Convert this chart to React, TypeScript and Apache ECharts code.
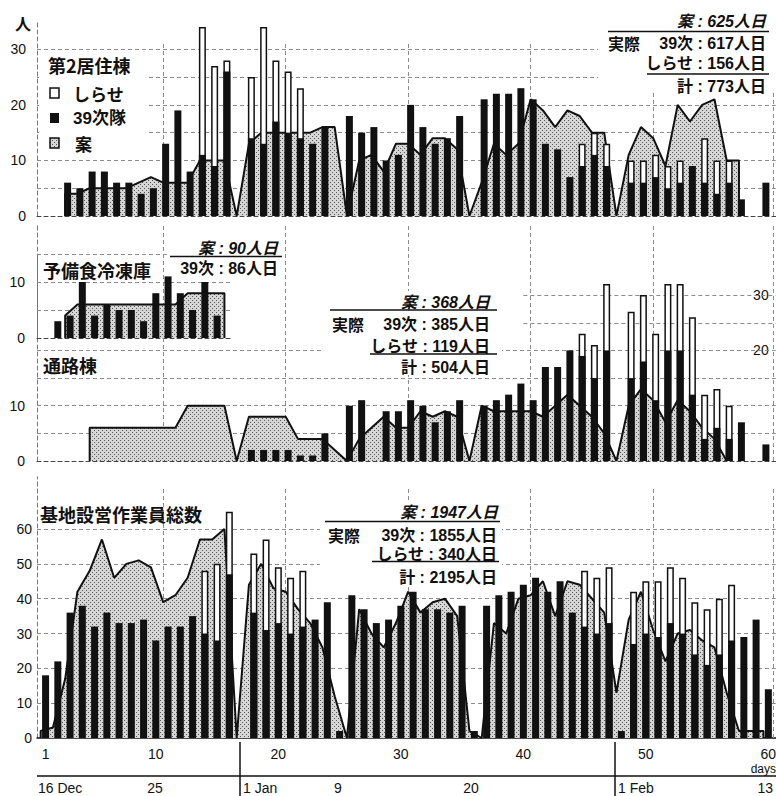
import { useEffect, useRef } from 'react';
import * as echarts from 'echarts';

type V = number | null;
const N = null;

// ---------- layout constants (axis extents) ----------
const X_MIN = 0.3;
const X_MAX = 60.6;
const SMALL_X_MAX = 16.3;
const PLAN_SHIFT = 0.6; // plan polyline vertices sit between bars
const UPPER_BAR_SHIFT = -0.2;
const DAY_TICKS = [1, 10, 20, 30, 40, 50, 60];
const GRID_DAYS = [10, 20, 30, 40, 50];
const RIGHT_EDGE = 60.4;

// ---------- 第2居住棟 (index = day 0..60) ----------
const dorm39: V[] = [
  N, N, N, 6, 5, 8, 8, 6, 6, 4,
  5, 13, 19, 8, 11, 9, 26, N, 14, 13,
  17, 15, 14, 13, 16, N, 18, 15, 16, 10,
  11, 20, 16, 13, 14, 18, N, 21, 22, 22,
  23, 21, 13, 12, 7, 9, 11, 9, N, 6,
  6, 7, 5, 6, 9, 6, 4, 6, 3, N,
  6,
];
const dormShirase: V[] = [
  N, N, N, N, N, N, N, N, N, N,
  N, N, N, N, 23, 18, 2, N, 11, 21,
  11, 11, 9, N, N, N, N, N, N, N,
  N, N, N, N, N, N, N, N, N, N,
  N, N, N, N, N, 4, 4, 4, N, 4,
  4, 4, 4, 4, N, 8, 6, 4, N, N,
  N,
];
const dormPlan: V[] = [
  N, N, 4, 4, 5, 5, 5, 5, 6, 7,
  6, 6, 6, 10, 10, 10, 0, 13, 15, 15,
  15, 15, 15, 16, 16, 0, 10, 11, 8, 13,
  13, 11, 14, 14, 12, 0, 6, 13, 11, 13,
  21, 19, 16, 19, 18, 15, 15, 0, 11, 16,
  14, 9, 20, 17, 20, 21, 10, 10, N, N,
  N,
];

// ---------- 予備食冷凍庫 (day 0..15) ----------
const frz39: V[] = [N, N, 3, 4, 10, 4, 6, 5, 5, 3, 8, 11, 8, 5, 10, 4];
const frzPlan: V[] = [N, N, 4, 6, 6, 6, 6, 6, 6, 6, 6, 6, 8, 8, 8, 8];

// ---------- 通路棟 ----------
const pass39: V[] = [
  N, N, N, N, N, N, N, N, N, N,
  N, N, N, N, N, N, N, N, 2, 2,
  2, 2, 1, 1, 5, N, 10, 11, N, 9,
  9, 11, 10, 7, 9, 11, N, 10, 11, 12,
  14, 11, 17, 17, 20, 19, 15, 20, N, 15,
  18, 11, 20, 20, 12, 4, 6, 4, 7, N,
  3,
];
const passShirase: V[] = [
  N, N, N, N, N, N, N, N, N, N,
  N, N, N, N, N, N, N, N, N, N,
  N, N, N, N, N, N, N, N, N, N,
  N, N, N, N, N, N, N, N, N, N,
  N, N, N, N, N, 4, 6, 12, N, 12,
  12, 12, 12, 12, 14, 8, 7, 6, N, N,
  N,
];
const passPlan: V[] = [
  N, N, N, N, 6, 6, 6, 6, 6, 6,
  6, 6, 10, 10, 10, 10, 0, 8, 8, 8,
  8, 4, 4, 4, 2, 0, 4, 6, 8, 6,
  6, 9, 8, 9, 8, 0, 10, 9, 9, 9,
  9, 8, 10, 12, 10, 8, 5, 0, 10, 13,
  11, 7, 11, 9, 6, 4, 0, N, N, N,
  N,
];

// ---------- 基地設営作業員総数 ----------
const all39: V[] = [
  N, 18, 22, 36, 38, 32, 36, 33, 33, 34,
  28, 32, 32, 35, 30, 28, 47, N, 36, 31,
  33, 30, 32, 34, 39, 2, 41, 37, 33, 34,
  38, 42, 37, 37, 36, 38, 2, 38, 41, 42,
  44, 46, 42, 45, 36, 32, 30, 33, 2, 27,
  30, 29, 33, 30, 24, 21, 24, 28, 29, 34,
  14,
];
const allShirase: V[] = [
  N, N, N, N, N, N, N, N, N, N,
  N, N, N, N, 18, 22, 18, N, 17, 26,
  16, 16, 16, N, N, N, N, N, N, N,
  N, N, N, N, N, N, N, N, N, N,
  N, N, N, N, N, 16, 16, 16, N, 15,
  15, 16, 16, 16, 15, 16, 16, 16, N, N,
  N,
];
const allPlan: V[] = [
  2, 3, 17, 42, 48, 57, 46, 50, 51, 49,
  39, 41, 46, 57, 57, 60, 0, 44, 50, 43,
  42, 37, 33, 26, 12, 0, 37, 30, 26, 33,
  42, 36, 39, 40, 35, 2, 0, 33, 30, 40,
  41, 45, 35, 45, 44, 40, 36, 13, 34, 42,
  31, 22, 30, 31, 28, 26, 13, 2, 2, 2,
  N,
];

// ---------- text ----------
const DATE_LABELS = ['16 Dec', '25', '1 Jan', '9', '20', '1 Feb', '13'];

const FONT = "'Liberation Sans', 'Noto Sans CJK JP', sans-serif";
const FONT_JP = "'Noto Sans CJK JP', 'Liberation Sans', sans-serif";
const INK = '#111';

function bars(vals: V[], shift: number) {
  const out: number[][] = [];
  vals.forEach((v, i) => { if (v != null) out.push([i + shift, v]); });
  return out;
}
function totals(base: V[], extra: V[], shift: number) {
  const out: number[][] = [];
  extra.forEach((v, i) => { if (v != null) out.push([i + shift, (base[i] ?? 0) + v]); });
  return out;
}
function planLine(vals: V[]) {
  const out: number[][] = [];
  vals.forEach((v, i) => {
    if (v == null) return;
    const x = i + PLAN_SHIFT;
    if (i === 0 || vals[i - 1] == null) out.push([x, 0]);
    out.push([x, v]);
    if (i === vals.length - 1 || vals[i + 1] == null) out.push([x, 0]);
  });
  return out;
}

function panel(idx: number, black: V[], shirase: V[] | null, plan: V[], shift: number, pattern: any) {
  const s: any[] = [
    {
      type: 'line', xAxisIndex: idx, yAxisIndex: idx, data: planLine(plan),
      symbol: 'none', silent: true, z: 2,
      lineStyle: { color: INK, width: 2 },
      areaStyle: { color: pattern, opacity: 1 },
    },
  ];
  if (shirase) {
    s.push({
      type: 'bar', xAxisIndex: idx, yAxisIndex: idx, data: totals(black, shirase, shift),
      barWidth: 7, barGap: '-100%', silent: true, z: 3,
      itemStyle: { color: '#fff', borderColor: INK, borderWidth: 1.5 },
    });
  }
  s.push({
    type: 'bar', xAxisIndex: idx, yAxisIndex: idx, data: bars(black, shift),
    barWidth: 7, barGap: '-100%', silent: true, z: 4,
    itemStyle: { color: INK },
  });
  return s;
}

function gridLines(idx: number, h: number[][], v: number[][]) {
  return {
    type: 'line', xAxisIndex: idx, yAxisIndex: idx, data: [[X_MIN, 0]],
    symbol: 'none', silent: true, z: 1, lineStyle: { width: 0 },
    markLine: {
      silent: true, symbol: ['none', 'none'], label: { show: false }, z: 1, animation: false,
      lineStyle: { color: '#8c8c8c', width: 1, type: [4, 3] },
      emphasis: { disabled: true },
      data: [
        ...h.map(([y, x1, x2]) => [{ coord: [x1, y] }, { coord: [x2, y] }]),
        ...v.map(([x, y1, y2]) => [{ coord: [x, y1] }, { coord: [x, y2] }]),
      ],
    },
  };
}

function yAxis(gridIndex: number, max: number, interval: number, show: (v: number) => boolean, margin: number, extra: any = {}) {
  return {
    type: 'value', gridIndex, min: 0, max, interval,
    axisLine: { show: true, lineStyle: { color: '#777', width: 1, type: [4, 3] } },
    axisTick: { show: false },
    splitLine: { show: false },
    axisLabel: { formatter: (v: number) => (show(v) ? String(v) : ''), color: INK, fontSize: 14, fontFamily: FONT, margin },
    ...extra,
  };
}
function xAxis(gridIndex: number, max: number, extra: any = {}) {
  return {
    type: 'value', gridIndex, min: X_MIN, max,
    axisLine: { show: true, onZero: false, lineStyle: { color: '#444', width: 1, type: [4, 3] } },
    axisTick: { show: false },
    axisLabel: { show: false },
    splitLine: { show: false },
    ...extra,
  };
}

function txt(text: string, x: number, y: number, o: any = {}) {
  const align = o.align ?? 'left';
  return {
    type: 'text', x, y, z: 7,
    style: {
      text, fill: INK, fontSize: o.size ?? 16, fontWeight: o.weight ?? 'bold',
      fontStyle: o.italic ? 'italic' : 'normal', fontFamily: o.font ?? FONT,
      align, verticalAlign: 'middle', textAlign: align, textVerticalAlign: 'middle',
    },
  };
}
function hline(x1: number, x2: number, y: number, w = 1.5) {
  return { type: 'line', z: 7, shape: { x1, y1: y, x2, y2: y }, style: { stroke: INK, lineWidth: w } };
}
function vline(x: number, y1: number, y2: number, w = 1.5) {
  return { type: 'line', z: 7, shape: { x1: x, y1, x2: x, y2 }, style: { stroke: INK, lineWidth: w } };
}
function whiteRect(x: number, y: number, width: number, height: number) {
  return { type: 'rect', z: 6, shape: { x, y, width, height }, style: { fill: '#fff' } };
}

export default function App() {
  const ref = useRef<HTMLDivElement>(null);
  useEffect(() => {
    if (!ref.current) return;
    const c = document.createElement('canvas');
    c.width = 4; c.height = 4;
    const ctx = c.getContext('2d')!;
    ctx.fillStyle = '#d6d6d6'; ctx.fillRect(0, 0, 4, 4);
    ctx.fillStyle = '#555'; ctx.fillRect(0, 0, 1, 1); ctx.fillRect(2, 2, 1, 1);
    const pattern = { image: c.toDataURL(), repeat: 'repeat', imageWidth: 4, imageHeight: 4 };

    const chart = echarts.init(ref.current, null, { renderer: 'svg' });
    const vFull = (y1: number, y2: number) => [...GRID_DAYS.map((d) => [d + PLAN_SHIFT, y1, y2]), [RIGHT_EDGE, y1, y2]];

    const option: any = {
      animation: false,
      backgroundColor: '#fff',
      grid: [
        { left: 37, top: 21.5, width: 738.7, height: 194.5, outerBoundsMode: 'none' },
        { left: 37, top: 254, width: 196, height: 84, outerBoundsMode: 'none' },
        { left: 37, top: 226, width: 738.7, height: 235, outerBoundsMode: 'none' },
        { left: 37, top: 476.8, width: 738.7, height: 261.2, outerBoundsMode: 'none' },
      ],
      xAxis: [
        xAxis(0, X_MAX),
        xAxis(1, SMALL_X_MAX),
        xAxis(2, X_MAX),
        xAxis(3, X_MAX, {
          axisLine: { show: true, onZero: false, lineStyle: { color: INK, width: 1.5 } },
          axisLabel: { show: true, customValues: DAY_TICKS, color: INK, fontSize: 14, fontFamily: FONT, margin: 9 },
        }),
      ],
      yAxis: [
        yAxis(0, 35, 10, (v) => v <= 30, 11),
        yAxis(1, 15, 10, (v) => v <= 10, 12),
        yAxis(2, 42.5, 10, (v) => v <= 10, 12),
        yAxis(3, 75, 10, (v) => v <= 60, 5),
        yAxis(2, 42.5, 10, (v) => v === 20 || v === 30, 7, {
          position: 'right', axisLine: { show: false },
          axisLabel: { inside: true, formatter: (v: number) => (v === 20 || v === 30 ? String(v) : ''), color: INK, fontSize: 14, fontFamily: FONT, margin: 7 },
        }),
      ],
      series: [
        gridLines(0, [5, 10, 15, 20, 25, 30].map((y) => [y, X_MIN, X_MAX]), vFull(0, 31)),
        gridLines(1, [[5, X_MIN, SMALL_X_MAX], [10, X_MIN, SMALL_X_MAX], [15, X_MIN, 10.9]], []),
        gridLines(2, [
          ...[5, 10, 15, 20].map((y) => [y, X_MIN, X_MAX]),
          [25, 40, X_MAX], [30, 40, X_MAX],
        ], vFull(0, 42.5)),
        gridLines(3, [10, 20, 30, 40, 50, 60].map((y) => [y, X_MIN, X_MAX]), vFull(0, 72)),
        ...panel(0, dorm39, dormShirase, dormPlan, UPPER_BAR_SHIFT, pattern),
        ...panel(1, frz39, null, frzPlan, 0, pattern),
        ...panel(2, pass39, passShirase, passPlan, UPPER_BAR_SHIFT, pattern),
        ...panel(3, all39, allShirase, allPlan, 0, pattern),
      ],
      graphic: [
        whiteRect(39, 52, 108, 100),
        whiteRect(598, 4, 178, 88),
        whiteRect(324, 291, 178, 84),
        whiteRect(320, 501, 182, 84),

        txt('人', 15, 23, { size: 16, font: FONT_JP }),
        txt('第2居住棟', 48, 65, { size: 18, font: FONT_JP }),
        { type: 'rect', z: 7, shape: { x: 50, y: 88, width: 9, height: 10 }, style: { fill: '#fff', stroke: INK, lineWidth: 1.5 } },
        txt('しらせ', 73, 93, { size: 17, font: FONT_JP }),
        { type: 'rect', z: 7, shape: { x: 50, y: 113, width: 9, height: 10 }, style: { fill: INK } },
        txt('39次隊', 73, 118, { size: 17 }),
        { type: 'rect', z: 7, shape: { x: 50, y: 138, width: 9, height: 10 }, style: { fill: pattern, stroke: INK, lineWidth: 1.5 } },
        txt('案', 75, 143, { size: 17, font: FONT_JP }),

        txt('案 : 625人日', 766, 21, { align: 'right', italic: true }),
        hline(608, 769, 31.5),
        txt('実際', 608, 43, { font: FONT_JP }),
        txt('39次 : 617人日', 766, 43, { align: 'right' }),
        txt('しらせ : 156人日', 766, 63, { align: 'right' }),
        hline(647, 769, 74),
        txt('計 : 773人日', 766, 86, { align: 'right' }),

        txt('予備食冷凍庫', 43, 270, { size: 18, font: FONT_JP }),
        txt('案 : 90人日', 278, 248, { align: 'right', italic: true }),
        hline(170, 282, 256.5),
        txt('39次 : 86人日', 278, 268, { align: 'right' }),

        txt('通路棟', 43, 365, { size: 18, font: FONT_JP }),
        txt('案 : 368人日', 490, 302, { align: 'right', italic: true }),
        hline(330, 497, 310),
        txt('実際', 332, 324, { font: FONT_JP }),
        txt('39次 : 385人日', 490, 324, { align: 'right' }),
        txt('しらせ : 119人日', 490, 346, { align: 'right' }),
        hline(370, 497, 354),
        txt('計 : 504人日', 490, 367, { align: 'right' }),

        txt('基地設営作業員総数', 40, 514, { size: 18, font: FONT_JP }),
        txt('案 : 1947人日', 498, 512, { align: 'right', italic: true }),
        hline(325, 500, 521.5),
        txt('実際', 328, 535, { font: FONT_JP }),
        txt('39次 : 1855人日', 497, 535, { align: 'right' }),
        txt('しらせ : 340人日', 497, 554, { align: 'right' }),
        hline(372, 499, 561.5),
        txt('計 : 2195人日', 497, 577, { align: 'right' }),

        txt('days', 776, 769, { align: 'right', size: 12, weight: 'normal' }),
        hline(37, 776, 776),
        vline(240, 742, 796),
        vline(615, 742, 796),
        txt(DATE_LABELS[0], 38, 788, { size: 14, weight: 'normal' }),
        txt(DATE_LABELS[1], 155, 788, { size: 14, weight: 'normal', align: 'center' }),
        txt(DATE_LABELS[2], 243, 788, { size: 14, weight: 'normal' }),
        txt(DATE_LABELS[3], 338, 788, { size: 14, weight: 'normal', align: 'center' }),
        txt(DATE_LABELS[4], 471, 788, { size: 14, weight: 'normal', align: 'center' }),
        txt(DATE_LABELS[5], 618, 788, { size: 14, weight: 'normal' }),
        txt(DATE_LABELS[6], 773, 788, { size: 14, weight: 'normal', align: 'right' }),
      ],
    };
    chart.setOption(option);
    return () => chart.dispose();
  }, []);
  return <div ref={ref} style={{ position: 'fixed', left: 0, top: 0, width: 776, height: 796, background: '#fff' }} />;
}
